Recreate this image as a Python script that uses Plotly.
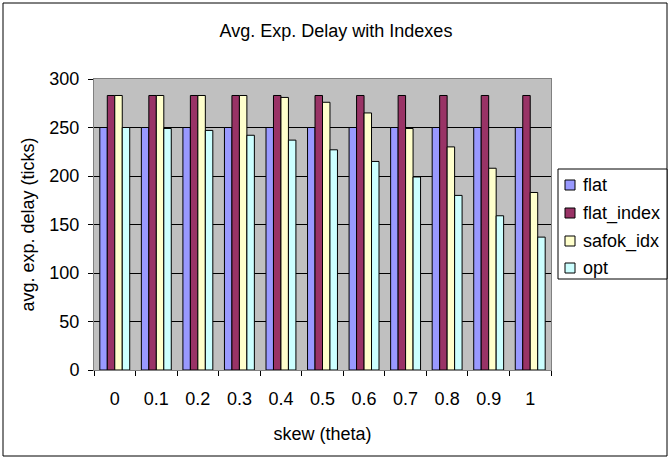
import plotly.graph_objects as go

# Skew values (categories on the x axis)
skew = ["0", "0.1", "0.2", "0.3", "0.4", "0.5", "0.6", "0.7", "0.8", "0.9", "1"]

# Average expected delay (ticks) per strategy
flat = [250, 250, 250, 250, 250, 250, 250, 250, 250, 250, 250]
flat_index = [283, 283, 283, 283, 283, 283, 283, 283, 283, 283, 283]
safok_idx = [283, 283, 283, 283, 281, 276, 265, 249, 230, 208, 183]
opt = [250, 249, 247, 242, 237, 227, 215, 199, 180, 159, 137]

series_names = ["flat", "flat_index", "safok_idx", "opt"]
series_values = [flat, flat_index, safok_idx, opt]
series_colors = ["#9999FF", "#993366", "#FFFFCC", "#CCFFFF"]

W, H = 672, 458
L, R, T, B = 94, 121, 79, 88
PW, PH = W - L - R, H - T - B
FONT = "Liberation Sans, Arial, sans-serif"


def px_x(x):
    return (x - L) / PW


def px_y(y):
    return (H - B - y) / PH


fig = go.Figure()
for name, vals, col in zip(series_names, series_values, series_colors):
    fig.add_trace(go.Bar(
        name=name, x=skew, y=vals,
        marker=dict(color=col, line=dict(color="#000000", width=1)),
        showlegend=False,
    ))

shapes = []
annotations = []

# outer chart frame
shapes.append(dict(type="rect", xref="paper", yref="paper",
                   x0=px_x(3), x1=px_x(667), y0=px_y(456), y1=px_y(3),
                   line=dict(color="#000000", width=1), fillcolor="rgba(0,0,0,0)"))

# legend box with colour keys
lx0, lx1, ly0, ly1 = 558, 667, 169, 279
shapes.append(dict(type="rect", xref="paper", yref="paper",
                   x0=px_x(lx0), x1=px_x(lx1), y0=px_y(ly1), y1=px_y(ly0),
                   line=dict(color="#000000", width=1), fillcolor="#FFFFFF"))
row_y = [185, 213, 241, 268]
for name, col, yy in zip(series_names, series_colors, row_y):
    shapes.append(dict(type="rect", xref="paper", yref="paper",
                       x0=px_x(565), x1=px_x(575), y0=px_y(yy + 5), y1=px_y(yy - 5),
                       line=dict(color="#000000", width=1), fillcolor=col))
    annotations.append(dict(text=name, xref="paper", yref="paper",
                            x=px_x(581), y=px_y(yy), xanchor="left", yanchor="middle",
                            showarrow=False, font=dict(family=FONT, size=18, color="#000000")))

fig.update_layout(
    width=W, height=H, autosize=False,
    margin=dict(l=L, r=R, t=T, b=B, pad=0),
    paper_bgcolor="#FFFFFF", plot_bgcolor="#C0C0C0",
    barmode="group", bargap=0.28, bargroupgap=0,
    font=dict(family=FONT, size=18, color="#000000"),
    title=dict(text="Avg. Exp. Delay with Indexes", x=0.5, xref="container",
               y=1 - 31 / H, yref="container", xanchor="center", yanchor="middle",
               font=dict(family=FONT, size=18, color="#000000")),
    shapes=shapes, annotations=annotations,
    xaxis=dict(
        type="category", tickson="boundaries", ticks="outside", ticklen=5,
        tickcolor="#000000", showline=True, linecolor="#808080", linewidth=1,
        mirror=True, showgrid=False, ticklabelstandoff=12,
        tickfont=dict(family=FONT, size=18, color="#000000"),
        title=dict(text="skew (theta)", standoff=19,
                   font=dict(family=FONT, size=18, color="#000000")),
    ),
    yaxis=dict(
        range=[0, 300], dtick=50, ticks="outside", ticklen=5, tickcolor="#000000",
        showline=True, linecolor="#808080", linewidth=1, mirror=True,
        showgrid=True, gridcolor="#000000", gridwidth=1, ticklabelstandoff=5,
        zeroline=True, zerolinecolor="#000000", zerolinewidth=1,
        tickfont=dict(family=FONT, size=18, color="#000000"),
        title=dict(text="avg. exp. delay (ticks)", standoff=10,
                   font=dict(family=FONT, size=18, color="#000000")),
    ),
)

fig.write_html("out.html")
